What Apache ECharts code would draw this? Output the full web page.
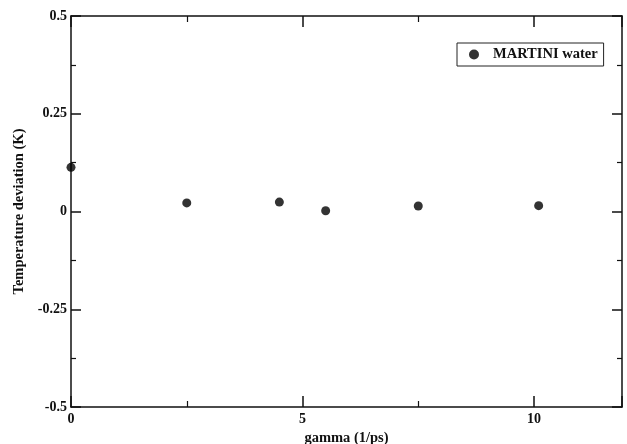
<!DOCTYPE html>
<html>
<head>
<meta charset="utf-8">
<script src="https://cdn.jsdelivr.net/npm/echarts@6/dist/echarts.min.js"></script>
<style>html,body{margin:0;padding:0;background:#fff}#c{width:627px;height:444px}</style>
</head>
<body>
<div id="c"></div>
<script>
var gammaValues = [0, 2.5, 4.5, 5.5, 7.5, 10.1];
var tempDeviation = [0.113, 0.022, 0.024, 0.002, 0.014, 0.015];
var seriesName = 'MARTINI water';
var xTitle = 'gamma (1/ps)';
var yTitle = 'Temperature deviation (K)';

var font = 'Liberation Serif';
var chart = echarts.init(document.getElementById('c'), null, {renderer: 'canvas'});
var axisLine = {show: true, onZero: false, lineStyle: {color: '#111', width: 1.5}};
var pts = gammaValues.map(function (g, i) { return [g, tempDeviation[i]]; });
chart.setOption({
  animation: false,
  backgroundColor: '#fff',
  grid: {left: 71, right: 5, top: 16, bottom: 37, containLabel: false, outerBoundsMode: 'none'},
  legend: {
    show: true, left: 457, top: 43, orient: 'vertical',
    data: [{name: seriesName, icon: 'circle'}],
    borderColor: '#222', borderWidth: 1, padding: [4, 6, 4, 12],
    itemWidth: 10, itemHeight: 10, itemGap: 4,
    textStyle: {fontFamily: font, fontWeight: 'bold', fontSize: 14.5, color: '#111', padding: [0, 0, 0, 9]}
  },
  xAxis: [{
    type: 'value', min: 0, max: 11.9, interval: 5, position: 'bottom',
    axisLine: axisLine,
    axisTick: {show: true, inside: true, length: 11, lineStyle: {color: '#111', width: 1.5}},
    minorTick: {show: true, splitNumber: 2, length: 6, lineStyle: {color: '#111', width: 1.2}},
    splitLine: {show: false},
    axisLabel: {show: true, showMaxLabel: false, fontFamily: font, fontWeight: 'bold', fontSize: 14, color: '#111', margin: 5},
    name: xTitle, nameLocation: 'middle', nameGap: 23,
    nameTextStyle: {fontFamily: font, fontWeight: 'bold', fontSize: 14.5, color: '#111'}
  }, {
    type: 'value', min: 0, max: 11.9, interval: 5, position: 'top',
    axisLine: axisLine,
    axisTick: {show: true, inside: true, length: 11, lineStyle: {color: '#111', width: 1.5}},
    minorTick: {show: true, splitNumber: 2, length: 6, lineStyle: {color: '#111', width: 1.2}},
    splitLine: {show: false}, axisLabel: {show: false}
  }],
  yAxis: [{
    type: 'value', min: -0.5, max: 0.5, interval: 0.25, position: 'left',
    axisLine: axisLine,
    axisTick: {show: true, inside: true, length: 10, lineStyle: {color: '#111', width: 1.5}},
    minorTick: {show: true, splitNumber: 2, length: 5, lineStyle: {color: '#111', width: 1.2}},
    splitLine: {show: false},
    axisLabel: {show: true, fontFamily: font, fontWeight: 'bold', fontSize: 14, color: '#111', margin: 4},
    name: yTitle, nameLocation: 'middle', nameGap: 44,
    nameTextStyle: {fontFamily: font, fontWeight: 'bold', fontSize: 14.5, color: '#111'}
  }, {
    type: 'value', min: -0.5, max: 0.5, interval: 0.25, position: 'right',
    axisLine: axisLine,
    axisTick: {show: true, inside: true, length: 10, lineStyle: {color: '#111', width: 1.5}},
    minorTick: {show: true, splitNumber: 2, length: 5, lineStyle: {color: '#111', width: 1.2}},
    splitLine: {show: false}, axisLabel: {show: false}
  }],
  series: [{
    name: seriesName, type: 'scatter', xAxisIndex: 0, yAxisIndex: 0,
    symbol: 'circle', symbolSize: 9,
    itemStyle: {color: '#000'},
    data: pts
  }]
});
</script>
</body>
</html>
